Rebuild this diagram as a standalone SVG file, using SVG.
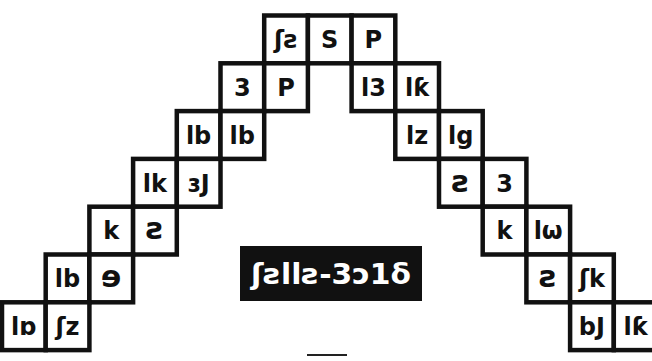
<svg xmlns="http://www.w3.org/2000/svg" width="652" height="361" viewBox="0 0 652 361">
<style>
.cell rect{fill:#fff;stroke:#111;stroke-width:4.5}
.cell text{font-family:"DejaVu Sans","Liberation Sans",sans-serif;font-weight:bold;font-size:24px;fill:#111;text-anchor:middle}
.cell text.sm{font-size:30px}
.title text{font-family:"DejaVu Sans","Liberation Sans",sans-serif;font-weight:bold;font-size:29px;fill:#fff;text-anchor:middle}
</style>
<rect width="652" height="361" fill="#fff"/>
<g id="connectors"></g>
<g id="n-r0c6" class="cell"><rect x="264.2" y="15.5" width="43.7" height="47.8"/><text x="286" y="48">ʃƨ</text></g>
<g id="n-r0c7" class="cell"><rect x="307.9" y="15.5" width="43.7" height="47.8"/><text x="329.7" y="48">S</text></g>
<g id="n-r0c8" class="cell"><rect x="351.6" y="15.5" width="43.7" height="47.8"/><text x="373.4" y="48">P</text></g>
<g id="n-r1c5" class="cell"><rect x="220.5" y="63.3" width="43.7" height="47.8"/><text x="242.3" y="96">3</text></g>
<g id="n-r1c6" class="cell"><rect x="264.2" y="63.3" width="43.7" height="47.8"/><text x="286" y="96">P</text></g>
<g id="n-r1c8" class="cell"><rect x="351.6" y="63.3" width="43.7" height="47.8"/><text x="373.4" y="96">l3</text></g>
<g id="n-r1c9" class="cell"><rect x="395.3" y="63.3" width="43.7" height="47.8"/><text x="417.1" y="96">lƙ</text></g>
<g id="n-r2c4" class="cell"><rect x="176.8" y="111.1" width="43.7" height="47.8"/><text x="198.6" y="144">lb</text></g>
<g id="n-r2c5" class="cell"><rect x="220.5" y="111.1" width="43.7" height="47.8"/><text x="242.3" y="144">lb</text></g>
<g id="n-r2c9" class="cell"><rect x="395.3" y="111.1" width="43.7" height="47.8"/><text x="417.1" y="144">lz</text></g>
<g id="n-r2c10" class="cell"><rect x="439" y="111.1" width="43.7" height="47.8"/><text x="460.8" y="144">lg</text></g>
<g id="n-r3c3" class="cell"><rect x="133.1" y="158.9" width="43.7" height="47.8"/><text x="154.9" y="192">lk</text></g>
<g id="n-r3c4" class="cell"><rect x="176.8" y="158.9" width="43.7" height="47.8"/><text x="198.6" y="192">ɜJ</text></g>
<g id="n-r3c10" class="cell"><rect x="439" y="158.9" width="43.7" height="47.8"/><text class="sm" x="460.8" y="192">ƨ</text></g>
<g id="n-r3c11" class="cell"><rect x="482.7" y="158.9" width="43.7" height="47.8"/><text x="504.5" y="192">3</text></g>
<g id="n-r4c2" class="cell"><rect x="89.4" y="206.7" width="43.7" height="47.8"/><text x="111.2" y="239">k</text></g>
<g id="n-r4c3" class="cell"><rect x="133.1" y="206.7" width="43.7" height="47.8"/><text class="sm" x="154.9" y="239">ƨ</text></g>
<g id="n-r4c11" class="cell"><rect x="482.7" y="206.7" width="43.7" height="47.8"/><text x="504.5" y="239">k</text></g>
<g id="n-r4c12" class="cell"><rect x="526.4" y="206.7" width="43.7" height="47.8"/><text x="548.2" y="239">lω</text></g>
<g id="n-r5c1" class="cell"><rect x="45.7" y="254.5" width="43.7" height="47.8"/><text x="67.5" y="287">lb</text></g>
<g id="n-r5c2" class="cell"><rect x="89.4" y="254.5" width="43.7" height="47.8"/><text class="sm" x="111.2" y="287">ɘ</text></g>
<g id="n-r5c12" class="cell"><rect x="526.4" y="254.5" width="43.7" height="47.8"/><text class="sm" x="548.2" y="287">ƨ</text></g>
<g id="n-r5c13" class="cell"><rect x="570.1" y="254.5" width="43.7" height="47.8"/><text x="591.9" y="287">ʃk</text></g>
<g id="n-r6c0" class="cell"><rect x="2" y="302.3" width="43.7" height="47.8"/><text x="23.8" y="335">lɒ</text></g>
<g id="n-r6c1" class="cell"><rect x="45.7" y="302.3" width="43.7" height="47.8"/><text x="67.5" y="335">ʃz</text></g>
<g id="n-r6c13" class="cell"><rect x="570.1" y="302.3" width="43.7" height="47.8"/><text x="591.9" y="335">bJ</text></g>
<g id="n-r6c14" class="cell"><rect x="613.8" y="302.3" width="43.7" height="47.8"/><text x="635.6" y="335">lƙ</text></g>
<g id="n-title" class="title"><rect x="240" y="246" width="182" height="55" fill="#111"/><text x="331" y="284" textLength="160" lengthAdjust="spacingAndGlyphs">ʃƨllƨ-3ɔ1δ</text></g>
<line x1="307" y1="355" x2="347" y2="355" stroke="#222" stroke-width="2"/>
</svg>
